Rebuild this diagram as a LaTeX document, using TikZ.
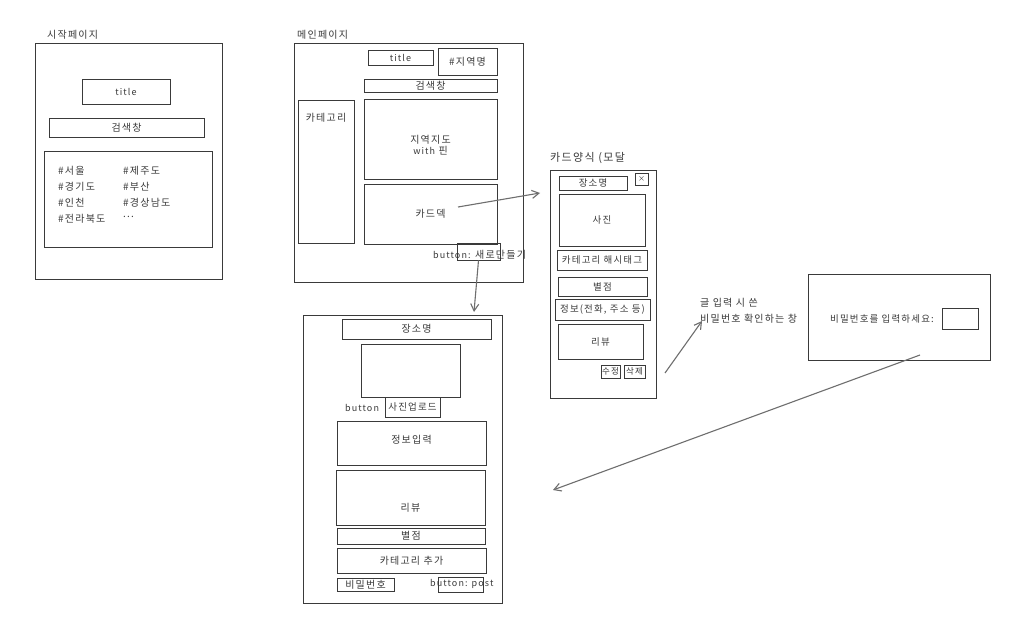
\documentclass[tikz,border=0pt]{standalone}
\usepackage{fontspec}
\setmainfont[LetterSpace=12]{Noto Sans CJK KR}
\usetikzlibrary{arrows.meta}
\definecolor{ink}{HTML}{3A3A3A}
\definecolor{arr}{HTML}{6E6E6E}
\newcommand{\lat}[1]{{\fontsize{9}{10}\selectfont #1}}
\tikzset{
  box/.style={draw=ink, line width=0.8pt, rectangle, inner sep=0pt, font=\fontsize{10}{11}\selectfont, text=ink},
  txt/.style={inner sep=0pt, font=\fontsize{10}{11}\selectfont, text=ink},
  small/.style={font=\fontsize{9.5}{10.5}\selectfont},
  tiny/.style={font=\fontsize{8.5}{9.5}\selectfont},
  conn/.style={draw=arr, line width=1.1pt, -{Straight Barb[length=7pt,width=8pt]}}
}
\begin{document}
\begin{tikzpicture}[x=1pt,y=-1pt]
\useasboundingbox (0,0) rectangle (1026,629);
\fill[white] (0,0) rectangle (1026,629);
% ---------- start page
\node[txt, anchor=west] (lstart) at (47,35) {시작페이지};
\node[box, minimum width=187, minimum height=236] (start) at (128.5,161) {};
\node[box, minimum width=88, minimum height=25] (stitle) at (126,91.5) {\lat{\itshape title}};
\node[box, minimum width=155, minimum height=19] (ssearch) at (126.5,127.5) {검색창};
\node[box, minimum width=168, minimum height=96] (slist) at (128,199) {};
\node[txt, anchor=west] (r1) at (58,171) {\#서울};
\node[txt, anchor=west] (r2) at (58,187) {\#경기도};
\node[txt, anchor=west] (r3) at (58,203) {\#인천};
\node[txt, anchor=west] (r4) at (58,219) {\#전라북도};
\node[txt, anchor=west] (s1) at (123,171) {\#제주도};
\node[txt, anchor=west] (s2) at (123,187) {\#부산};
\node[txt, anchor=west] (s3) at (123,203) {\#경상남도};
\node[txt, anchor=west] (s4) at (123,217) {...};
% ---------- main page
\node[txt, anchor=west] (lmain) at (297,35) {메인페이지};
\node[box, minimum width=229, minimum height=239] (main) at (408.5,162.5) {};
\node[box, minimum width=65, minimum height=15] (mtitle) at (400.5,57.5) {\lat{\itshape title}};
\node[box, minimum width=59, minimum height=27] (mregion) at (467.5,61.5) {\#지역명};
\node[box, minimum width=133, minimum height=13] (msearch) at (430.5,85.5) {검색창};
\node[box, minimum width=56, minimum height=143] (mcat) at (326,171.5) {};
\node[txt] (mcatt) at (326,118) {카테고리};
\node[box, minimum width=133, minimum height=80] (mmap) at (430.5,139) {};
\node[txt, align=center] (mmapt) at (430.5,145) {지역지도\\\lat{with} 핀};
\node[box, minimum width=133, minimum height=60] (mdeck) at (430.5,214) {카드덱};
\node[box, minimum width=43, minimum height=17] (mbtn) at (478.5,251.5) {};
\node[txt, anchor=west] (mbtnt) at (433,255) {\lat{button:} 새로만들기};
\coordinate (deckpt) at (458,207);
% ---------- card modal
\node[txt, anchor=west, font=\fontsize{11}{12}\selectfont] (lcard) at (550,158) {카드양식 (모달};
\node[box, minimum width=106, minimum height=228] (card) at (603,284) {};
\node[box, small, minimum width=68, minimum height=14] (cname) at (593,183) {장소명};
\node[box, small, minimum width=13, minimum height=12] (cx) at (641.5,179) {\fontsize{7}{7}\selectfont ×};
\node[box, small, minimum width=86, minimum height=52] (cphoto) at (602,220) {사진};
\node[box, small, minimum width=90, minimum height=20] (ctag) at (602,260) {카테고리 해시태그};
\node[box, small, minimum width=89, minimum height=19] (cstar) at (602.5,286.5) {별점};
\node[box, small, minimum width=95, minimum height=21] (cinfo) at (602.5,309.5) {정보(전화, 주소 등)};
\node[box, small, minimum width=85, minimum height=35] (crev) at (600.5,341.5) {리뷰};
\node[box, tiny, minimum width=19, minimum height=13] (cedit) at (610.5,371.5) {수정};
\node[box, tiny, minimum width=21, minimum height=13] (cdel) at (634.5,371.5) {삭제};
\coordinate (cardpt) at (665,373);
% ---------- password
\node[txt, anchor=west] (pwl1) at (700,303) {글 입력 시 쓴};
\node[txt, anchor=west] (pwl2) at (700,319) {비밀번호 확인하는 창};
\coordinate (pwtip) at (702,321);
\node[box, minimum width=182, minimum height=86] (pw) at (899,317) {};
\node[txt, small, anchor=west] (pwt) at (830,319) {비밀번호를 입력하세요:};
\node[box, minimum width=36, minimum height=21] (pwin) at (960,318.5) {};
\coordinate (pwpt) at (920,355);
% ---------- form
\node[box, minimum width=199, minimum height=288] (form) at (402.5,459) {};
\node[box, minimum width=149, minimum height=20] (fname) at (416.5,329) {장소명};
\node[box, minimum width=99, minimum height=53] (fimg) at (410.5,370.5) {};
\node[txt, anchor=west] (fbtn) at (345,408) {\lat{button}};
\node[box, small, minimum width=55, minimum height=20] (fup) at (412.5,407) {사진업로드};
\node[box, minimum width=149, minimum height=44] (finfo) at (411.5,443) {};
\node[txt] (finfot) at (411.5,440) {정보입력};
\node[box, minimum width=149, minimum height=55] (frev) at (410.5,497.5) {};
\node[txt] (frevt) at (410.5,508) {리뷰};
\node[box, minimum width=148, minimum height=16] (fstar) at (411,536) {별점};
\node[box, minimum width=149, minimum height=25] (fcat) at (411.5,560.5) {카테고리 추가};
\node[box, minimum width=57, minimum height=13] (fpw) at (365.5,584.5) {비밀번호};
\node[box, minimum width=45, minimum height=15] (fpost) at (460.5,584.5) {};
\node[txt, anchor=west] (fpostt) at (430,584) {\lat{button: post}};
\coordinate (formtop) at (474,312);
\coordinate (formin) at (553,490);
% ---------- connectors
\draw[conn] (deckpt) -- (540,193);
\draw[conn] (mbtn.south) -- (formtop);
\draw[conn] (cardpt) -- (pwtip);
\draw[conn] (pwpt) -- (formin);
\end{tikzpicture}
\end{document}
